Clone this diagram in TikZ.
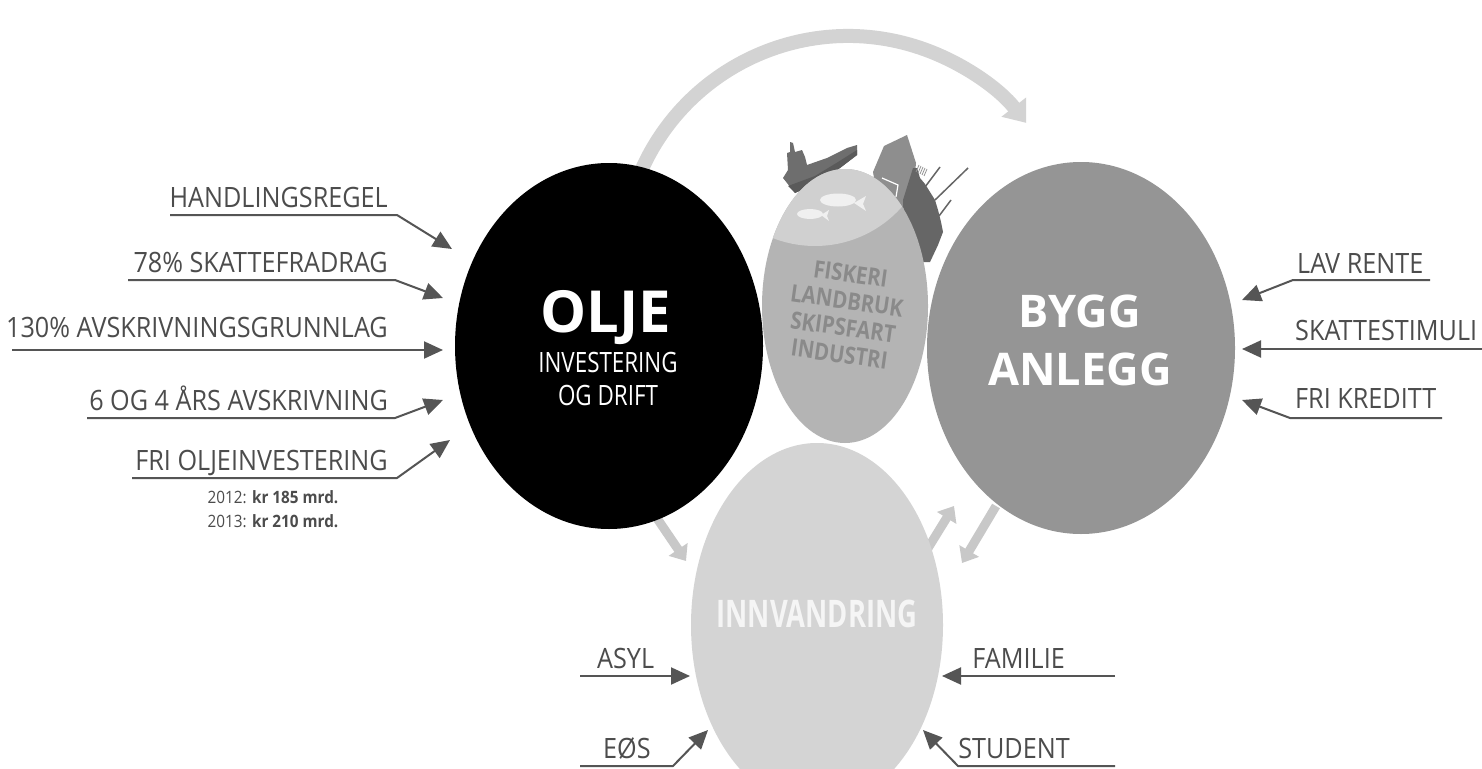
\documentclass[tikz,border=0pt]{standalone}
\usepackage{fontspec}
\setmainfont{Open Sans}
\newfontfamily\labf{Open Sans}[FakeStretch=0.9]
\newfontfamily\fiskf{Open Sans}[FakeStretch=0.85]
\newfontfamily\oljf{Open Sans}[FakeStretch=0.80]
\newfontfamily\innf{Open Sans}[FakeStretch=0.72]
\usetikzlibrary{arrows.meta,shapes.geometric}
\definecolor{labc}{HTML}{4C4C4C}
\definecolor{connc}{HTML}{555555}
\definecolor{arcc}{HTML}{D3D3D3}
\definecolor{smallc}{HTML}{C8C8C8}
\definecolor{byggc}{HTML}{959595}
\definecolor{midc}{HTML}{B4B4B4}
\definecolor{capc}{HTML}{D0D0D0}
\definecolor{innc}{HTML}{D4D4D4}
\definecolor{fiskc}{HTML}{8A8A8A}
\definecolor{shipc}{HTML}{6E6E6E}
\definecolor{shipd}{HTML}{5A5A5A}
\definecolor{bldc}{HTML}{8E8E8E}
\definecolor{indc}{HTML}{666666}
\tikzset{
  lab/.style={font=\labf\fontsize{28}{30}\selectfont, text=labc, inner sep=0pt},
  fisktxt/.style={font=\fiskf\bfseries\fontsize{24}{27}\selectfont, text=fiskc, rotate=-8, inner sep=0pt, align=center},
  conn/.style={draw=connc, line width=2pt, line join=round, -{Triangle[length=19pt,width=17pt]}},
  bigarr/.style={draw=arcc, line width=14pt, -{Triangle[length=20pt,width=30pt]}},
  smallarr/.style={draw=smallc, line width=9pt, -{Triangle[length=14pt,width=22pt]}},
  blob/.style={ellipse, inner sep=0pt, outer sep=0pt, draw=none},
}
\begin{document}
\begin{tikzpicture}[x=1pt,y=-1pt]
\useasboundingbox (0,0) rectangle (1482,768);
\fill[white] (0,0) rectangle (1482,768);

% big arc arrow OLJE -> BYGG
\coordinate (arcc0) at (848,262);
\draw[bigarr] (arcc0) ++(200:226) arc[start angle=200, end angle=322, radius=226];

% small light arrows
\coordinate (s1a) at (650,508); \coordinate (s1b) at (686,561);
\coordinate (s2a) at (925,553); \coordinate (s2b) at (954,506);
\coordinate (s3a) at (996,506); \coordinate (s3b) at (962,563);
\draw[smallarr] (s1a) -- (s1b);
\draw[smallarr] (s2a) -- (s2b);
\draw[smallarr] (s3a) -- (s3b);

% ship
\fill[shipc] (783,178) -- (795,193) -- (817,183) -- (840,168) -- (857,155) -- (857,145)
  -- (847,148) -- (827,158) -- (807,165) -- (805,157) -- (802,150) -- (795,152)
  -- (793,143) -- (790,142) -- (790,152) -- (787,153) -- (788,170) -- cycle;
\fill[shipd] (788,186) -- (795,193) -- (817,183) -- (840,168) -- (857,155) -- (857,150)
  -- (838,162) -- (815,176) -- cycle;
% building
\fill[bldc] (873,172) -- (884,146) -- (907,135) -- (916,163) -- (912,205) -- (880,215) -- cycle;
\draw[white, line width=1.2pt] (882,178) -- (898,185) -- (896,197);
% industry
\fill[indc] (903,200) -- (913,168) -- (917,168) -- (920,178) -- (925,184) -- (930,192)
  -- (935,200) -- (938,210) -- (941,222) -- (943,232) -- (938,245) -- (930,262) -- (905,262) -- cycle;
\draw[indc, line width=1.5pt] (925,187) -- (940,167);
\draw[indc, line width=1.5pt] (935,200) -- (968,168);
\draw[indc, line width=1.5pt] (939,216) -- (951,200);
\foreach \i in {0,...,4} \draw[indc!70, line width=0.8pt] (916+2*\i,172+\i) -- (919+2*\i,165+\i);

% ellipses
\node[blob, fill=black, minimum width=308pt, minimum height=366pt] (olje) at (609,346) {};
\node[blob, fill=byggc, minimum width=308pt, minimum height=372pt] (bygg) at (1081,348) {};
\node[blob, fill=midc, minimum width=166pt, minimum height=274pt] (mid) at (845,306) {};
\begin{scope}
  \clip (845,306) ellipse [x radius=83, y radius=137];
  \fill[capc] (815,130) circle [radius=116];
\end{scope}
\node[blob, fill=innc, minimum width=252pt, minimum height=364pt] (innv) at (817,625) {};

% fish
\fill[white!94!black] (838,200) ellipse [x radius=18, y radius=6.5];
\fill[white!94!black] (854,203) -- (866,196) -- (863,204) -- (866,211) -- cycle;
\fill[white!94!black] (810,214) ellipse [x radius=13, y radius=5];
\fill[white!94!black] (821,215) -- (829,210) -- (827,216) -- (829,221) -- cycle;

% heading texts
\node[font=\bfseries\fontsize{58}{60}\selectfont, text=white, anchor=base, inner sep=0pt] (oljet) at (606,332) {OLJE};
\node[font=\oljf\fontsize{28}{30}\selectfont, text=white, anchor=base, inner sep=0pt] (oljinv) at (608,372) {INVESTERING};
\node[font=\oljf\fontsize{28}{30}\selectfont, text=white, anchor=base, inner sep=0pt] (oljdr) at (608,405) {OG DRIFT};
\node[font=\bfseries\fontsize{45}{47}\selectfont, text=white, anchor=base, inner sep=0pt] (byggt) at (1080,327) {BYGG};
\node[font=\bfseries\fontsize{45}{47}\selectfont, text=white, anchor=base, inner sep=0pt] (anlt) at (1080,385) {ANLEGG};
\node[font=\innf\bfseries\fontsize{38}{40}\selectfont, text=white!96!black, anchor=base, inner sep=0pt] (innt) at (817,627) {INNVANDRING};
\node[fisktxt] (fisk) at (845,314) {FISKERI\\LANDBRUK\\SKIPSFART\\INDUSTRI};

% left labels
\node[lab, anchor=base east] (l1) at (388,207) {HANDLINGSREGEL};
\node[lab, anchor=base east] (l2) at (388,272) {78\% SKATTEFRADRAG};
\node[lab, anchor=base east] (l3) at (388,337) {130\% AVSKRIVNINGSGRUNNLAG};
\node[lab, anchor=base east] (l4) at (388,410) {6 OG 4 ÅRS AVSKRIVNING};
\node[lab, anchor=base east] (l5) at (388,470) {FRI OLJEINVESTERING};
\node[font=\labf\fontsize{17}{19}\selectfont, text=labc, anchor=base, inner sep=0pt] (d12) at (273,503) {2012: \textbf{kr 185 mrd.}};
\node[font=\labf\fontsize{17}{19}\selectfont, text=labc, anchor=base, inner sep=0pt] (d13) at (273,527) {2013: \textbf{kr 210 mrd.}};

\coordinate (l1a) at (170,215); \coordinate (l1b) at (397,215); \coordinate (l1t) at (452,249);
\coordinate (l2a) at (128,280); \coordinate (l2b) at (395,280); \coordinate (l2t) at (443,298);
\coordinate (l3a) at (12,350);  \coordinate (l3t) at (443,350);
\coordinate (l4a) at (87,418);  \coordinate (l4b) at (395,418); \coordinate (l4t) at (443,400);
\coordinate (l5a) at (132,478); \coordinate (l5b) at (397,478); \coordinate (l5t) at (450,440);
\draw[conn] (l1a) -- (l1b) -- (l1t);
\draw[conn] (l2a) -- (l2b) -- (l2t);
\draw[conn] (l3a) -- (l3t);
\draw[conn] (l4a) -- (l4b) -- (l4t);
\draw[conn] (l5a) -- (l5b) -- (l5t);

% right labels
\node[lab, anchor=base west] (r1) at (1297,273) {LAV RENTE};
\node[lab, anchor=base west] (r2) at (1295,340) {SKATTESTIMULI};
\node[lab, anchor=base west] (r3) at (1295,408) {FRI KREDITT};
\coordinate (r1a) at (1430,280); \coordinate (r1b) at (1293,280); \coordinate (r1t) at (1242,300);
\coordinate (r2a) at (1482,349); \coordinate (r2t) at (1242,349);
\coordinate (r3a) at (1442,418); \coordinate (r3b) at (1290,418); \coordinate (r3t) at (1242,400);
\draw[conn] (r1a) -- (r1b) -- (r1t);
\draw[conn] (r2a) -- (r2t);
\draw[conn] (r3a) -- (r3b) -- (r3t);

% bottom labels
\node[lab, anchor=base west] (b1) at (597,668) {ASYL};
\node[lab, anchor=base west] (b2) at (603,758) {EØS};
\node[lab, anchor=base east] (b3) at (1065,668) {FAMILIE};
\node[lab, anchor=base east] (b4) at (1070,758) {STUDENT};
\coordinate (b1a) at (580,676); \coordinate (b1t) at (690,676);
\coordinate (b2a) at (580,766); \coordinate (b2b) at (673,766); \coordinate (b2t) at (708,730);
\coordinate (b3a) at (1115,676); \coordinate (b3t) at (942,676);
\coordinate (b4a) at (1115,766); \coordinate (b4b) at (958,766); \coordinate (b4t) at (923,730);
\draw[conn] (b1a) -- (b1t);
\draw[conn] (b2a) -- (b2b) -- (b2t);
\draw[conn] (b3a) -- (b3t);
\draw[conn] (b4a) -- (b4b) -- (b4t);
\end{tikzpicture}
\end{document}
